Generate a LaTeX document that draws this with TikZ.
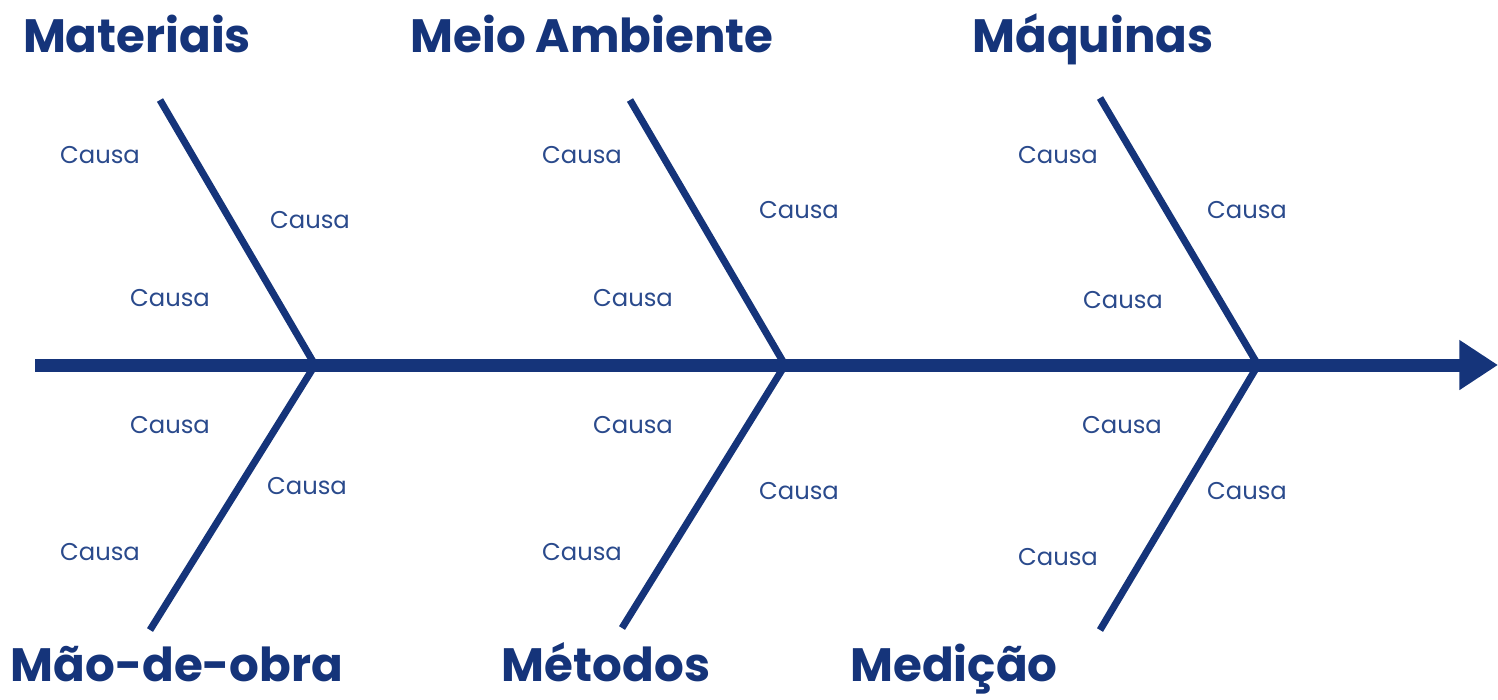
\documentclass[tikz,border=0pt]{standalone}
\usepackage{fontspec}
\setmainfont{Poppins}
\usetikzlibrary{arrows.meta}
\definecolor{navy}{HTML}{15347A}
\definecolor{causanavy}{HTML}{2A4A8C}
\begin{document}
\begin{tikzpicture}[x=0.01cm,y=-0.01cm,
  spine/.style={draw=navy,line width=3.7pt,-{Triangle[length=11pt,width=13.5pt]}},
  bone/.style={draw=navy,line width=2pt},
  cat/.style={text=navy,font=\fontsize{13.3}{15}\selectfont\bfseries,inner sep=0pt,anchor=base},
  cause/.style={text=causanavy,font=\fontsize{6.9}{8}\selectfont,inner sep=0pt}]
\useasboundingbox (0,0) rectangle (1498,699);
% spine
\coordinate (s0) at (35,365);
\coordinate (s1) at (1498,365);
\coordinate (j1) at (315,365);
\coordinate (j2) at (785,365);
\coordinate (j3) at (1258,365);
\draw[spine] (s0) -- (s1);
% branch ends
\coordinate (t1) at (160,100);
\coordinate (t2) at (630,100);
\coordinate (t3) at (1100,98);
\coordinate (b1) at (150,630);
\coordinate (b2) at (622,628);
\coordinate (b3) at (1100,630);
\draw[bone] (t1) -- (j1);
\draw[bone] (t2) -- (j2);
\draw[bone] (t3) -- (j3);
\draw[bone] (b1) -- (j1);
\draw[bone] (b2) -- (j2);
\draw[bone] (b3) -- (j3);
% categories
\node[cat] (mat) at (137,52) {Materiais};
\node[cat] (meio) at (592,52) {Meio Ambiente};
\node[cat] (maq) at (1093,52) {Máquinas};
\node[cat] (mao) at (177,681) {Mão-de-obra};
\node[cat] (met) at (606,681) {Métodos};
\node[cat] (med) at (954,681) {Medição};
% causes
\node[cause] (c1) at (100,155) {Causa};
\node[cause] (c2) at (310,220) {Causa};
\node[cause] (c3) at (170,298) {Causa};
\node[cause] (c4) at (170,425) {Causa};
\node[cause] (c5) at (307,486) {Causa};
\node[cause] (c6) at (100,552) {Causa};
\node[cause] (c7) at (582,155) {Causa};
\node[cause] (c8) at (799,210) {Causa};
\node[cause] (c9) at (633,298) {Causa};
\node[cause] (c10) at (633,425) {Causa};
\node[cause] (c11) at (799,491) {Causa};
\node[cause] (c12) at (582,552) {Causa};
\node[cause] (c13) at (1058,155) {Causa};
\node[cause] (c14) at (1247,210) {Causa};
\node[cause] (c15) at (1123,300) {Causa};
\node[cause] (c16) at (1122,425) {Causa};
\node[cause] (c17) at (1247,491) {Causa};
\node[cause] (c18) at (1058,557) {Causa};
\end{tikzpicture}
\end{document}
